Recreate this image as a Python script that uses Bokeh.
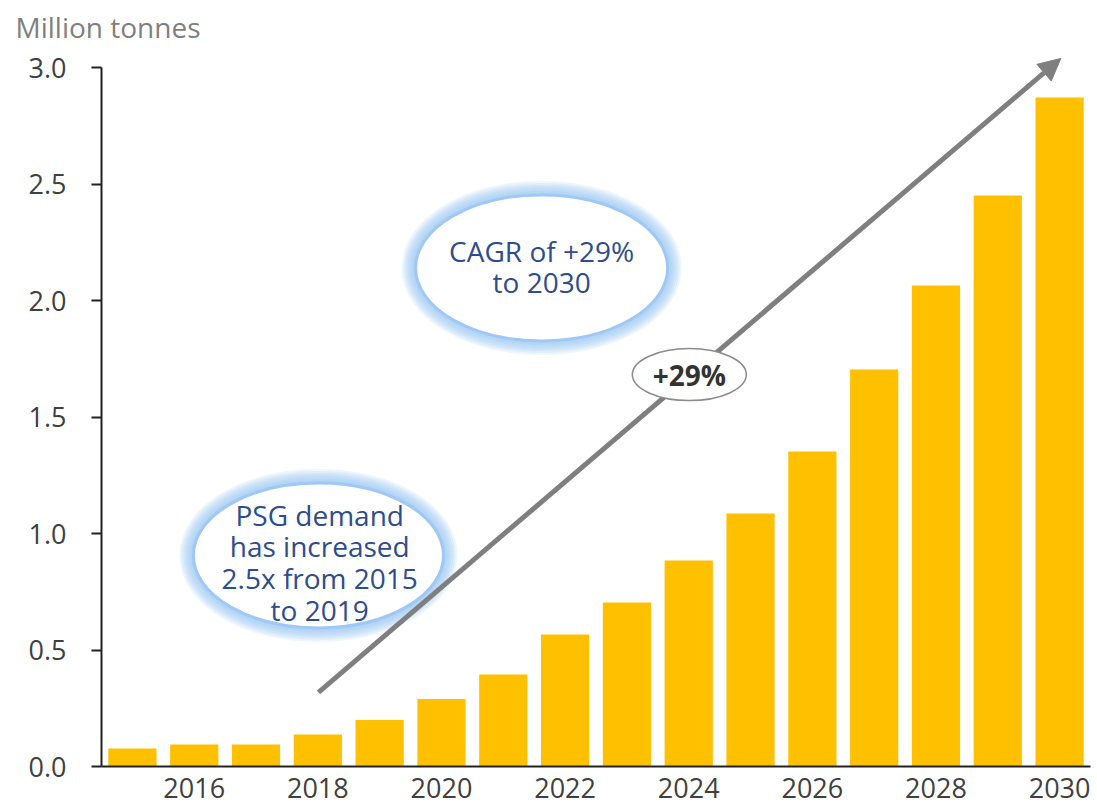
from bokeh.plotting import figure
from bokeh.models import Range1d, FixedTicker, Arrow, NormalHead, NumeralTickFormatter
from bokeh.embed import file_html
from bokeh.resources import INLINE
from bokeh.core.properties import value

# ---- data ----
years = list(range(2015, 2031))
demand = [0.077, 0.094, 0.094, 0.137, 0.200, 0.290, 0.395, 0.567,
          0.704, 0.884, 1.086, 1.352, 1.704, 2.064, 2.451, 2.871]
x_ticks = [2016, 2018, 2020, 2022, 2024, 2026, 2028, 2030]
y_ticks = [0.0, 0.5, 1.0, 1.5, 2.0, 2.5, 3.0]
unit_label = "Million tonnes"
note_cagr = "CAGR of +29%\nto 2030"
note_psg = "PSG demand\nhas increased\n2.5x from 2015\nto 2019"
note_rate = "+29%"

FONT = "Open Sans"
BAR = "#FFC000"
BLUE_TXT = "#2E4C8E"
GLOW = "#8FBFF2"
GREY = "#7F7F7F"

p = figure(width=1097, height=805,
           x_range=Range1d(2014.5, 2030.5), y_range=Range1d(0, 3.073),
           output_backend="svg", toolbar_location=None,
           min_border_left=101, min_border_right=7,
           min_border_top=50, min_border_bottom=39)
p.outline_line_color = None
p.grid.visible = False
p.background_fill_color = "white"

p.title.text = unit_label
p.title.align = "left"
p.title.offset = -86
p.title.text_font = FONT
p.title.text_font_size = "28px"
p.title.text_font_style = "normal"
p.title.text_color = GREY

p.vbar(x=years, top=demand, width=0.78, fill_color=BAR, line_color=None)

# axes
p.xaxis.ticker = FixedTicker(ticks=x_ticks)
p.xaxis.major_tick_out = 0
p.xaxis.major_tick_in = 0
p.xaxis.minor_tick_out = 0
p.xaxis.minor_tick_in = 0
p.xaxis.axis_line_width = 2
p.xaxis.axis_line_color = "#222222"
p.xaxis.major_label_standoff = 11
p.yaxis.ticker = FixedTicker(ticks=y_ticks)
p.yaxis.formatter = NumeralTickFormatter(format="0.0")
p.yaxis.bounds = (0, 3)
p.yaxis.major_tick_out = 10
p.yaxis.major_tick_in = 0
p.yaxis.minor_tick_out = 0
p.yaxis.minor_tick_in = 0
p.yaxis.major_tick_line_width = 2
p.yaxis.major_tick_line_color = "#222222"
p.yaxis.axis_line_width = 2
p.yaxis.axis_line_color = "#222222"
p.yaxis.major_label_standoff = 25
for ax in (p.xaxis, p.yaxis):
    ax.major_label_text_font = FONT
    ax.major_label_text_font_size = "27px"
    ax.major_label_text_color = "#404040"


def glow_ellipse(cx, cy, w, h):
    for lw in [28, 24, 20, 16, 12, 8, 4]:
        p.ellipse(x=cx, y=cy, width=w, height=h, width_units="screen",
                  height_units="screen", fill_color=None, line_color=GLOW,
                  line_alpha=0.16, line_width=lw)
    p.ellipse(x=cx, y=cy, width=w, height=h, width_units="screen",
              height_units="screen", fill_color="white", line_color="#9FC8F4",
              line_width=3)


# CAGR bubble
glow_ellipse(2021.62, 2.140, 252, 146)
p.text(x=2021.62, y=2.146, text=[note_cagr], text_align="center",
       text_baseline="middle", text_font=value(FONT), text_font_size="28px",
       text_color=BLUE_TXT, text_line_height=0.84)

# PSG bubble
glow_ellipse(2018.01, 0.906, 250, 145)
p.text(x=2018.03, y=0.876, text=[note_psg], text_align="center",
       text_baseline="middle", text_font=value(FONT), text_font_size="28px",
       text_color=BLUE_TXT, text_line_height=0.84)

# growth arrow
p.add_layout(Arrow(end=NormalHead(size=22, fill_color=GREY, line_color=GREY),
                   x_start=2018.01, y_start=0.318, x_end=2030.02, y_end=3.039,
                   line_color=GREY, line_width=5))

# +29% tag over the arrow
p.ellipse(x=2024.01, y=1.682, width=114, height=52, width_units="screen",
          height_units="screen", fill_color="white", line_color="#8C8C8C",
          line_width=1.5, level="overlay")
p.text(x=2024.01, y=1.682, text=[note_rate], text_align="center",
       text_baseline="middle", text_font=value(FONT), text_font_size="28px",
       text_font_style="bold", text_color="#333333", level="overlay")

open("out.html", "w").write(file_html(p, INLINE))
